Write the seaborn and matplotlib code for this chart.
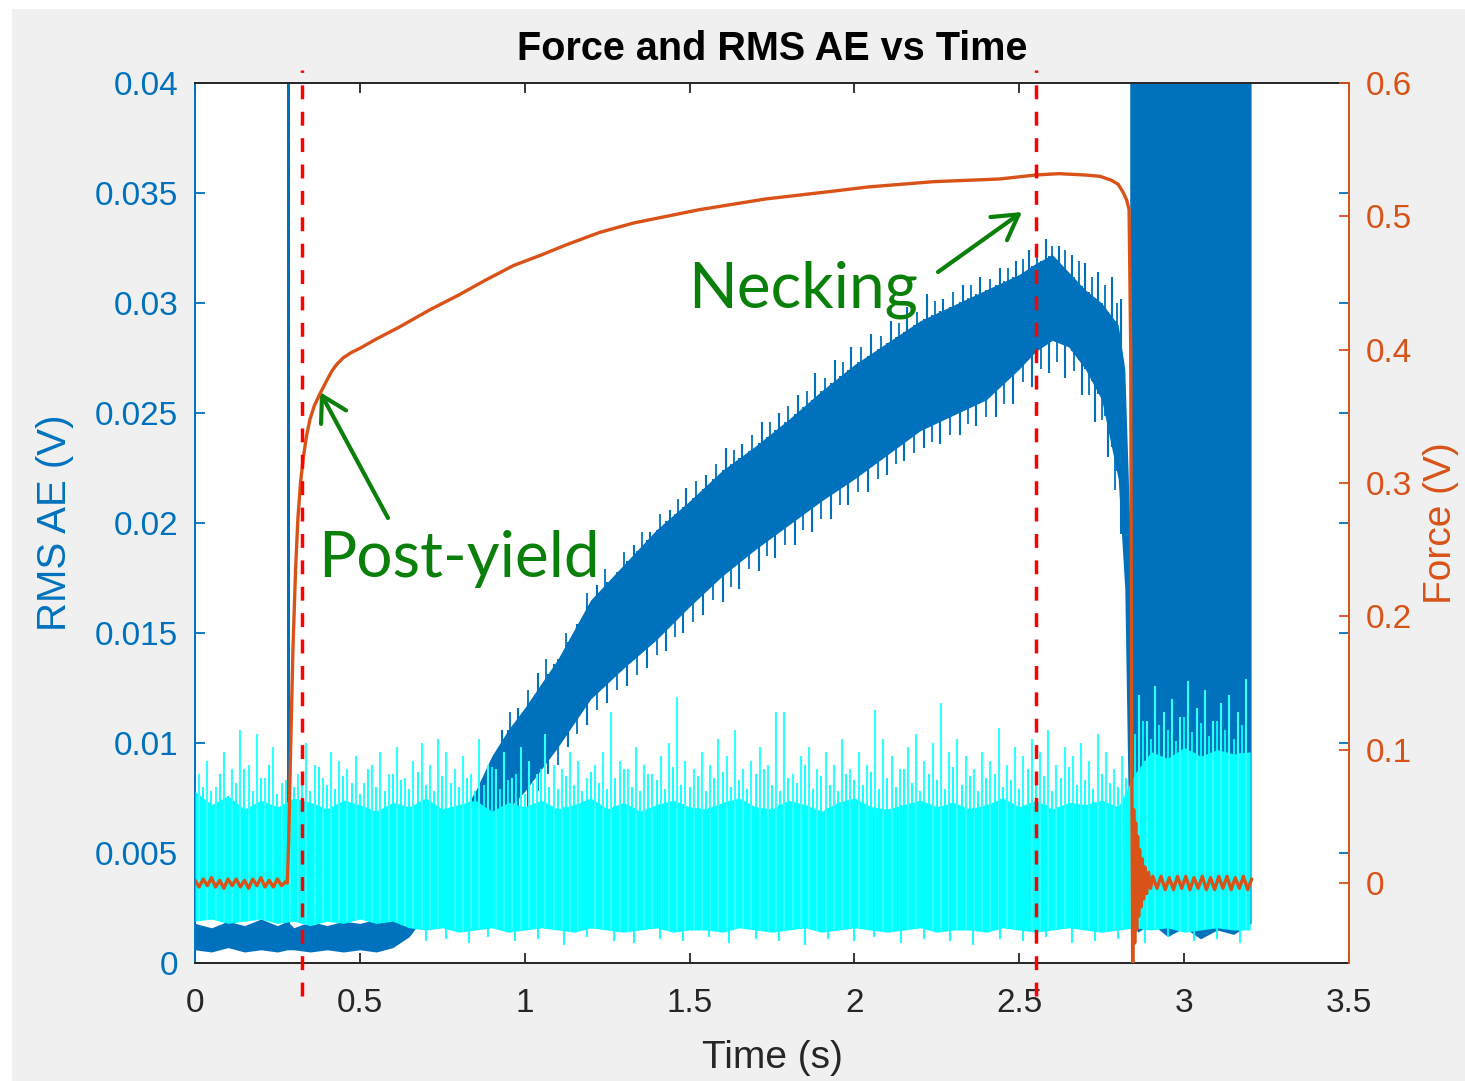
import numpy as np
import pandas as pd
import matplotlib
matplotlib.use("Agg")
import matplotlib.pyplot as plt
from matplotlib.patches import Rectangle
import seaborn as sns

# ---------------- data ----------------
x_ticks = [0, 0.5, 1, 1.5, 2, 2.5, 3, 3.5]
x_ticklabels = ["0", "0.5", "1", "1.5", "2", "2.5", "3", "3.5"]
ae_ticks = [0, 0.005, 0.01, 0.015, 0.02, 0.025, 0.03, 0.035, 0.04]
ae_ticklabels = ["0", "0.005", "0.01", "0.015", "0.02", "0.025", "0.03", "0.035", "0.04"]
force_ticks = [0, 0.1, 0.2, 0.3, 0.4, 0.5, 0.6]
force_ticklabels = ["0", "0.1", "0.2", "0.3", "0.4", "0.5", "0.6"]
marker_times = [0.3245, 2.551]

# Force (V), orange curve
force_pre_t = np.linspace(0.0, 0.275, 23)
force_pre = [0.002, -0.003, 0.003, -0.002, 0.004, -0.003, 0.002, -0.004, 0.003, -0.002, 0.003, -0.003,
             0.002, -0.004, 0.003, -0.002, 0.004, -0.003, 0.002, -0.003, 0.003, -0.002, 0.001]
force_main_t = [0.280, 0.284, 0.290, 0.297, 0.305, 0.312, 0.320, 0.328, 0.338, 0.349, 0.362, 0.379, 0.400,
                0.415, 0.430, 0.450, 0.475, 0.500, 0.550, 0.620, 0.713, 0.800, 0.880, 0.965, 1.050, 1.130,
                1.228, 1.330, 1.430, 1.530, 1.630, 1.730, 1.835, 1.940, 2.040, 2.140, 2.240, 2.340, 2.440,
                2.550, 2.620, 2.700, 2.745, 2.780, 2.800, 2.815, 2.826, 2.833, 2.838]
force_main = [0.000, 0.030, 0.100, 0.175, 0.235, 0.273, 0.300, 0.318, 0.335, 0.348, 0.358, 0.367, 0.377,
              0.384, 0.389, 0.394, 0.398, 0.401, 0.408, 0.417, 0.430, 0.441, 0.452, 0.463, 0.471, 0.479,
              0.488, 0.495, 0.500, 0.505, 0.509, 0.513, 0.516, 0.519, 0.522, 0.524, 0.526, 0.527, 0.528,
              0.531, 0.532, 0.531, 0.530, 0.527, 0.524, 0.518, 0.512, 0.505, 0.400]
force_drop_t = [2.841, 2.844, 2.847, 2.850, 2.853, 2.856, 2.859, 2.862, 2.865, 2.869, 2.873, 2.877, 2.881,
                2.886, 2.892, 2.898]
force_drop = [0.100, -0.070, 0.055, -0.045, 0.045, -0.035, 0.035, -0.025, 0.025, -0.018, 0.018, -0.012,
              0.012, -0.008, 0.008, -0.004]
force_post_t = np.linspace(2.905, 3.205, 25)
force_post = [0.005, -0.004, 0.005, -0.005, 0.004, -0.005, 0.005, -0.004, 0.005, -0.005, 0.004, -0.004,
              0.005, -0.005, 0.004, -0.005, 0.005, -0.004, 0.005, -0.005, 0.004, -0.004, 0.005, -0.005, 0.003]

# RMS AE (dark blue) band, values x1e-3 V
rms_t = [0.00, 0.05, 0.10, 0.15, 0.20, 0.25, 0.28, 0.30, 0.35, 0.40, 0.45, 0.50, 0.55, 0.60, 0.65, 0.70,
         0.75, 0.80, 0.85, 0.90, 0.95, 1.00, 1.10, 1.20, 1.30, 1.40, 1.50, 1.60, 1.70, 1.80, 1.90, 2.00,
         2.10, 2.20, 2.30, 2.40, 2.50, 2.55, 2.60, 2.65, 2.70, 2.75, 2.80, 2.82, 2.835]
rms_low = [0.6, 0.5, 0.7, 0.5, 0.6, 0.5, 0.6, 0.6, 0.5, 0.6, 0.5, 0.6, 0.5, 0.7, 1.2, 2.2,
           3.2, 4.2, 5.2, 6.2, 7.0, 7.8, 9.8, 12.0, 13.4, 14.7, 16.2, 17.6, 18.8, 19.9, 21.0, 22.0,
           23.1, 24.2, 24.9, 25.6, 27.0, 27.8, 28.3, 28.0, 27.0, 25.6, 22.0, 17.0, 3.0]
rms_high = [1.8, 1.6, 1.9, 1.7, 2.0, 1.7, 1.9, 1.6, 1.9, 1.7, 1.9, 1.8, 2.0, 2.0, 2.6, 4.2,
            5.4, 6.6, 7.8, 9.4, 10.6, 11.6, 13.8, 16.5, 18.1, 19.7, 21.0, 22.4, 23.5, 24.7, 26.0, 27.2,
            28.2, 29.2, 29.9, 30.6, 31.3, 31.8, 32.2, 31.4, 30.6, 30.0, 29.0, 27.0, 20.0]
rms_up_t = [0.93, 0.98, 1.04, 1.09, 1.16, 1.22, 1.27, 1.33, 1.38, 1.44, 1.49, 1.55, 1.61, 1.66, 1.72,
            1.77, 1.83, 1.88, 1.94, 1.99, 2.05, 2.11, 2.16, 2.22, 2.27, 2.33, 2.38, 2.44, 2.49, 2.53,
            2.58, 2.62, 2.66, 2.70, 2.74, 2.78, 2.81]
rms_up = [10.6, 11.6, 13.2, 13.6, 15.4, 17.2, 17.4, 19.0, 19.6, 20.6, 21.6, 22.2, 23.4, 23.6, 24.6,
          25.0, 25.8, 26.8, 27.4, 28.0, 28.6, 29.2, 29.8, 30.4, 30.2, 30.8, 31.2, 31.6, 31.9, 32.4,
          32.9, 32.6, 32.2, 31.8, 31.4, 31.2, 30.2]
rms_up2_t = [0.955, 1.01, 1.065, 1.125, 1.19, 1.245, 1.30, 1.355, 1.41, 1.465, 1.52, 1.58, 1.635, 1.69,
             1.745, 1.80, 1.855, 1.91, 1.965, 2.02, 2.08, 2.135, 2.19, 2.245, 2.30, 2.355, 2.41, 2.465,
             2.51, 2.555, 2.60, 2.64, 2.68, 2.72, 2.76, 2.795]
rms_up2 = [11.4, 12.4, 13.8, 15.0, 16.8, 17.9, 18.7, 19.6, 20.4, 21.1, 21.9, 22.7, 23.3, 24.0,
           24.6, 25.3, 26.0, 26.6, 27.3, 28.0, 28.5, 29.1, 29.6, 30.1, 30.5, 30.8, 31.1, 31.6,
           32.0, 32.4, 32.6, 32.4, 31.9, 31.2, 30.8, 30.0]
rms_dn_t = [0.95, 1.01, 1.07, 1.13, 1.19, 1.25, 1.31, 1.37, 1.43, 1.48, 1.54, 1.60, 1.65, 1.71, 1.76,
            1.82, 1.87, 1.93, 1.98, 2.04, 2.10, 2.15, 2.21, 2.26, 2.32, 2.37, 2.43, 2.48, 2.54, 2.59,
            2.64, 2.69, 2.73, 2.77]
rms_dn = [6.2, 7.0, 8.6, 9.8, 10.8, 11.8, 12.6, 13.4, 14.2, 15.0, 15.8, 16.4, 17.0, 17.8, 18.4,
          19.0, 19.6, 20.2, 20.8, 21.4, 22.2, 22.8, 23.4, 23.6, 24.0, 24.4, 24.8, 25.4, 26.2, 26.8,
          26.6, 25.8, 24.6, 23.0]
rms_dn2_t = [0.98, 1.04, 1.10, 1.16, 1.22, 1.28, 1.34, 1.40, 1.455, 1.51, 1.57, 1.625, 1.68, 1.735,
             1.79, 1.845, 1.90, 1.955, 2.01, 2.07, 2.125, 2.18, 2.235, 2.29, 2.345, 2.40, 2.455, 2.51,
             2.565, 2.615, 2.665, 2.71, 2.75, 2.79]
rms_dn2 = [6.8, 7.8, 9.0, 10.4, 11.5, 12.4, 13.1, 14.0, 14.8, 15.5, 16.5, 17.1, 17.9, 18.5,
           19.0, 19.7, 20.2, 20.8, 21.4, 22.0, 22.7, 23.2, 23.7, 24.0, 24.5, 24.8, 25.4, 26.4,
           27.0, 27.3, 26.9, 25.8, 24.7, 21.5]
rms_burst_t = [0.279, 0.289]
rms_burst_low = [0.8, 0.8]
rms_burst_high = [41.0, 41.0]
rms_end_t = [2.835, 2.86, 2.90, 2.95, 3.00, 3.05, 3.10, 3.15, 3.203]
rms_end_low = [2.0, 1.4, 1.8, 1.2, 1.6, 1.1, 1.5, 1.3, 1.8]
rms_end_high = [41.0, 41.0, 41.0, 41.0, 41.0, 41.0, 41.0, 41.0, 41.0]

# Second AE channel (cyan), x1e-3 V
cyan_t = np.linspace(0.0, 3.2, 65)
cyan_low = [1.9, 2.0, 1.8, 1.9, 2.0, 1.8, 1.9, 1.7, 1.9, 1.8,
            2.0, 1.8, 1.9, 1.6, 1.5, 1.6, 1.4, 1.5, 1.6, 1.4,
            1.5, 1.6, 1.5, 1.4, 1.6, 1.5, 1.4, 1.5, 1.6, 1.4,
            1.5, 1.5, 1.4, 1.6, 1.5, 1.4, 1.5, 1.6, 1.4, 1.5,
            1.6, 1.5, 1.4, 1.5, 1.6, 1.4, 1.5, 1.5, 1.4, 1.6,
            1.5, 1.4, 1.5, 1.6, 1.5, 1.4, 1.5, 1.6, 1.5, 1.6,
            1.4, 1.5, 1.6, 1.5, 1.5]
cyan_high = [7.8, 7.2, 7.6, 7.0, 7.4, 7.1, 7.5, 7.3, 7.0, 7.4,
             7.2, 6.9, 7.3, 7.1, 7.5, 7.0, 7.2, 7.4, 6.9, 7.3,
             7.1, 7.4, 7.0, 7.2, 7.5, 7.0, 7.3, 6.9, 7.2, 7.4,
             7.1, 7.0, 7.3, 7.5, 7.1, 7.0, 7.4, 7.2, 6.9, 7.3,
             7.5, 7.1, 7.0, 7.2, 7.4, 7.1, 7.3, 7.0, 7.2, 7.5,
             7.1, 7.4, 7.0, 7.3, 7.2, 7.4, 7.1, 8.6, 9.6, 9.3,
             9.8, 9.4, 9.7, 9.5, 9.6]
cyan_spike_t = np.linspace(0.0125, 3.1875, 128)
cyan_spike = [8.6, 9.2, 8.0, 9.6, 8.8, 10.6, 9.0, 10.4, 8.4, 9.8, 8.2, 9.4, 8.6, 10.0, 9.0, 8.4,
              9.6, 9.2, 8.8, 9.4, 8.2, 9.0, 9.6, 8.6, 9.8, 8.4, 9.2, 10.0, 9.0, 10.2, 9.6, 8.8,
              9.4, 8.6, 10.2, 9.0, 8.8, 9.6, 8.4, 9.8, 9.2, 8.6, 10.4, 9.0, 8.8, 9.6, 9.2, 8.4,
              9.0, 9.6, 11.4, 9.2, 8.8, 9.8, 9.0, 8.6, 9.4, 10.0, 12.1, 9.2, 8.8, 9.6, 9.0, 10.2,
              9.4, 10.6, 8.8, 9.2, 9.8, 9.0, 11.4, 11.4, 8.6, 9.4, 9.8, 8.8, 9.6, 9.0, 10.2, 8.8,
              9.6, 9.0, 11.5, 10.2, 9.4, 8.8, 9.8, 10.4, 9.2, 10.0, 11.8, 9.6, 10.2, 9.4, 8.8, 9.6,
              9.2, 10.7, 9.0, 9.8, 9.4, 10.2, 9.6, 10.6, 9.0, 9.8, 9.4, 10.0, 9.2, 10.4, 9.6, 8.8,
              9.4, 10.0, 12.2, 11.0, 12.6, 11.4, 12.0, 11.2, 12.8, 11.6, 12.4, 11.0, 11.8, 12.2, 11.4, 12.9]
cyan_spike2_t = np.linspace(0.025, 3.175, 127)
cyan_spike2 = [8.0, 7.8, 8.6, 7.6, 8.2, 8.8, 7.8, 8.4, 9.0, 7.7, 8.3, 8.0, 8.6, 7.8, 8.9, 8.1,
               7.9, 8.5, 8.2, 7.7, 8.8, 8.0, 7.8, 8.6, 8.3, 7.9, 8.7, 8.1, 7.8, 8.5, 8.2, 8.0,
               8.4, 7.8, 8.1, 8.9, 7.9, 8.3, 8.6, 7.7, 8.2, 8.8, 8.0, 7.9, 8.5, 8.1, 7.8, 8.7,
               8.2, 7.9, 8.4, 8.8, 8.0, 7.8, 8.6, 8.3, 7.9, 8.9, 8.1, 8.0, 8.5, 7.8, 8.4, 8.7,
               8.0, 8.3, 7.9, 8.6, 8.8, 8.1, 7.8, 8.4, 8.2, 9.0, 7.9, 8.5, 8.1, 7.8, 8.6, 8.3,
               8.1, 8.7, 7.9, 8.4, 8.0, 8.8, 8.2, 7.8, 8.6, 8.3, 7.9, 8.9, 8.1, 8.5, 7.8, 8.4,
               8.6, 8.0, 8.3, 7.9, 8.8, 8.2, 8.5, 7.8, 8.4, 8.9, 8.1, 8.3, 7.9, 8.6, 8.2, 8.0,
               8.4, 10.4, 11.0, 10.2, 10.8, 10.6, 10.1, 11.2, 10.5, 10.9, 10.3, 11.0, 10.6, 10.2, 10.8]
cyan_dn_t = [0.70, 0.76, 0.83, 0.89, 0.97, 1.04, 1.12, 1.19, 1.27, 1.33, 1.41, 1.48, 1.56, 1.62, 1.70,
             1.77, 1.85, 1.92, 2.00, 2.06, 2.14, 2.21, 2.29, 2.36, 2.44, 2.51, 2.58, 2.66, 2.73, 2.80,
             2.88, 2.95, 3.03, 3.10, 3.17]
cyan_dn = [1.0, 1.1, 0.9, 1.2, 1.0, 1.1, 0.8, 1.2, 1.0, 0.9, 1.1, 1.0, 1.2, 0.9, 1.1,
           1.0, 0.8, 1.1, 1.0, 1.2, 0.9, 1.1, 1.0, 0.8, 1.1, 1.0, 1.2, 0.9, 1.0, 1.1,
           0.9, 1.2, 1.0, 1.1, 0.9]

# ---------------- styling ----------------
W, H = 1465, 1081
BLUE = "#0072BD"
CYAN = "#00FFFF"
ORANGE = "#D95319"
GRAY = "#262626"
GREEN = "#0a800a"
sns.set_theme(style="white")
plt.rcParams["font.family"] = ["Liberation Sans", "DejaVu Sans"]


def fx(px):
    return px / W


def fy(py):
    return 1 - py / H


fig = plt.figure(figsize=(W / 100, H / 100), dpi=100)
fig.patch.set_facecolor("white")
fig.add_artist(Rectangle((fx(12), 0), 1, fy(9), transform=fig.transFigure,
                         facecolor="#f0f0f0", edgecolor="none", zorder=-10))

ax = fig.add_axes([fx(195), fy(963), (1349 - 195) / W, 880 / H])
ax.set_facecolor("white")
ax2 = ax.twinx()

m = 1e-3
# dark blue RMS AE
ax.fill_between(rms_t, np.array(rms_low) * m, np.array(rms_high) * m, color=BLUE, lw=0, zorder=2)
ax.vlines(rms_up_t, np.interp(rms_up_t, rms_t, rms_low) * m, np.array(rms_up) * m,
          color=BLUE, lw=1.5, zorder=2)
ax.vlines(rms_up2_t, np.interp(rms_up2_t, rms_t, rms_low) * m, np.array(rms_up2) * m,
          color=BLUE, lw=1.3, zorder=2)
ax.vlines(rms_dn_t, np.array(rms_dn) * m, np.interp(rms_dn_t, rms_t, rms_high) * m,
          color=BLUE, lw=1.5, zorder=2)
ax.vlines(rms_dn2_t, np.array(rms_dn2) * m, np.interp(rms_dn2_t, rms_t, rms_high) * m,
          color=BLUE, lw=1.3, zorder=2)
ax.fill_between(rms_burst_t, np.array(rms_burst_low) * m, np.array(rms_burst_high) * m,
                color=BLUE, lw=0, zorder=2)
ax.fill_between(rms_end_t, np.array(rms_end_low) * m, np.array(rms_end_high) * m,
                color=BLUE, lw=0, zorder=2)
# cyan AE channel
ax.fill_between(cyan_t, np.array(cyan_low) * m, np.array(cyan_high) * m, color=CYAN, lw=0, zorder=3)
ax.vlines(cyan_spike_t, np.interp(cyan_spike_t, cyan_t, cyan_low) * m, np.array(cyan_spike) * m,
          color="#30ffff", lw=1.5, zorder=3)
ax.vlines(cyan_spike2_t, np.interp(cyan_spike2_t, cyan_t, cyan_low) * m, np.array(cyan_spike2) * m,
          color=CYAN, lw=1.3, zorder=3)
ax.vlines(cyan_dn_t, np.array(cyan_dn) * m, np.interp(cyan_dn_t, cyan_t, cyan_high) * m,
          color=CYAN, lw=1.3, zorder=3)

ax.set_xlim(0, 3.5)
ax.set_ylim(0, 0.04)
ax.set_xticks(x_ticks)
ax.set_xticklabels(x_ticklabels)
ax.set_yticks(ae_ticks)
ax.set_yticklabels(ae_ticklabels)

# force curve
force_df = pd.DataFrame({
    "t": list(force_pre_t) + force_main_t + force_drop_t + list(force_post_t),
    "f": force_pre + force_main + force_drop + force_post,
})
sns.lineplot(data=force_df, x="t", y="f", ax=ax2, color=ORANGE, lw=2.4, estimator=None,
             sort=False, zorder=5)
ax2.set_ylim(-0.06, 0.6)
ax2.set_yticks(force_ticks)
ax2.set_yticklabels(force_ticklabels)
ax2.set_xlim(0, 3.5)
ax2.set_xlabel("")

# marker lines
for tm in marker_times:
    ax2.plot([tm, tm], [-0.085, 0.61], color="red", lw=2.5, ls=(0, (4.0, 3.6)),
             clip_on=False, zorder=6)

# axes appearance
for a in (ax, ax2):
    for s in a.spines.values():
        s.set_linewidth(1.4)
ax.spines["left"].set_color(BLUE)
ax.spines["top"].set_color(GRAY)
ax.spines["bottom"].set_color(GRAY)
ax.spines["right"].set_visible(False)
ax2.spines["left"].set_visible(False)
ax2.spines["top"].set_visible(False)
ax2.spines["bottom"].set_visible(False)
ax2.spines["right"].set_color(ORANGE)

ax.tick_params(axis="x", direction="in", length=7, width=1.3, colors=GRAY, labelsize=24,
               top=True, bottom=True, pad=18)
ax.tick_params(axis="y", direction="in", length=7, width=1.3, colors=BLUE, labelsize=24,
               left=True, right=True, pad=12)
ax2.tick_params(axis="y", direction="in", length=7, width=1.3, colors=ORANGE, labelsize=24,
                right=True, pad=12)

ax.set_xlabel("Time (s)", fontsize=28, color=GRAY, va="center")
ax.xaxis.set_label_coords(0.5, (963 - 1058) / 880)
ax.set_ylabel("RMS AE (V)", fontsize=29, color=BLUE, va="center")
ax.yaxis.set_label_coords((55 - 195) / 1154, 0.5)
ax2.set_ylabel("Force (V)", fontsize=28, color=ORANGE, va="center", rotation=90)
ax2.yaxis.set_label_coords((1441 - 195) / 1154, 0.5)
ax.set_title("Force and RMS AE vs Time", fontsize=28.5, fontweight="bold", color="black",
             y=1 + 23 / 880, va="baseline", pad=0)

# annotations
fig.text(fx(688), fy(308), "Necking", fontsize=46, color=GREEN, family=["Lato", "DejaVu Sans"],
         ha="left", va="baseline")
fig.text(fx(318), fy(577), "Post-yield", fontsize=46, color=GREEN, family=["Lato", "DejaVu Sans"],
         ha="left", va="baseline")
arrow_style = dict(arrowstyle="->,head_length=0.55,head_width=0.32", color=GREEN, lw=3.0,
                   mutation_scale=32, shrinkA=0, shrinkB=0)
ax2.annotate("", xy=(fx(1022), fy(212)), xytext=(fx(938), fy(272)),
             xycoords="figure fraction", textcoords="figure fraction", arrowprops=arrow_style)
ax2.annotate("", xy=(fx(320), fy(392)), xytext=(fx(388), fy(518)),
             xycoords="figure fraction", textcoords="figure fraction", arrowprops=arrow_style)

fig.savefig("out.png", dpi=100, facecolor=fig.get_facecolor())
